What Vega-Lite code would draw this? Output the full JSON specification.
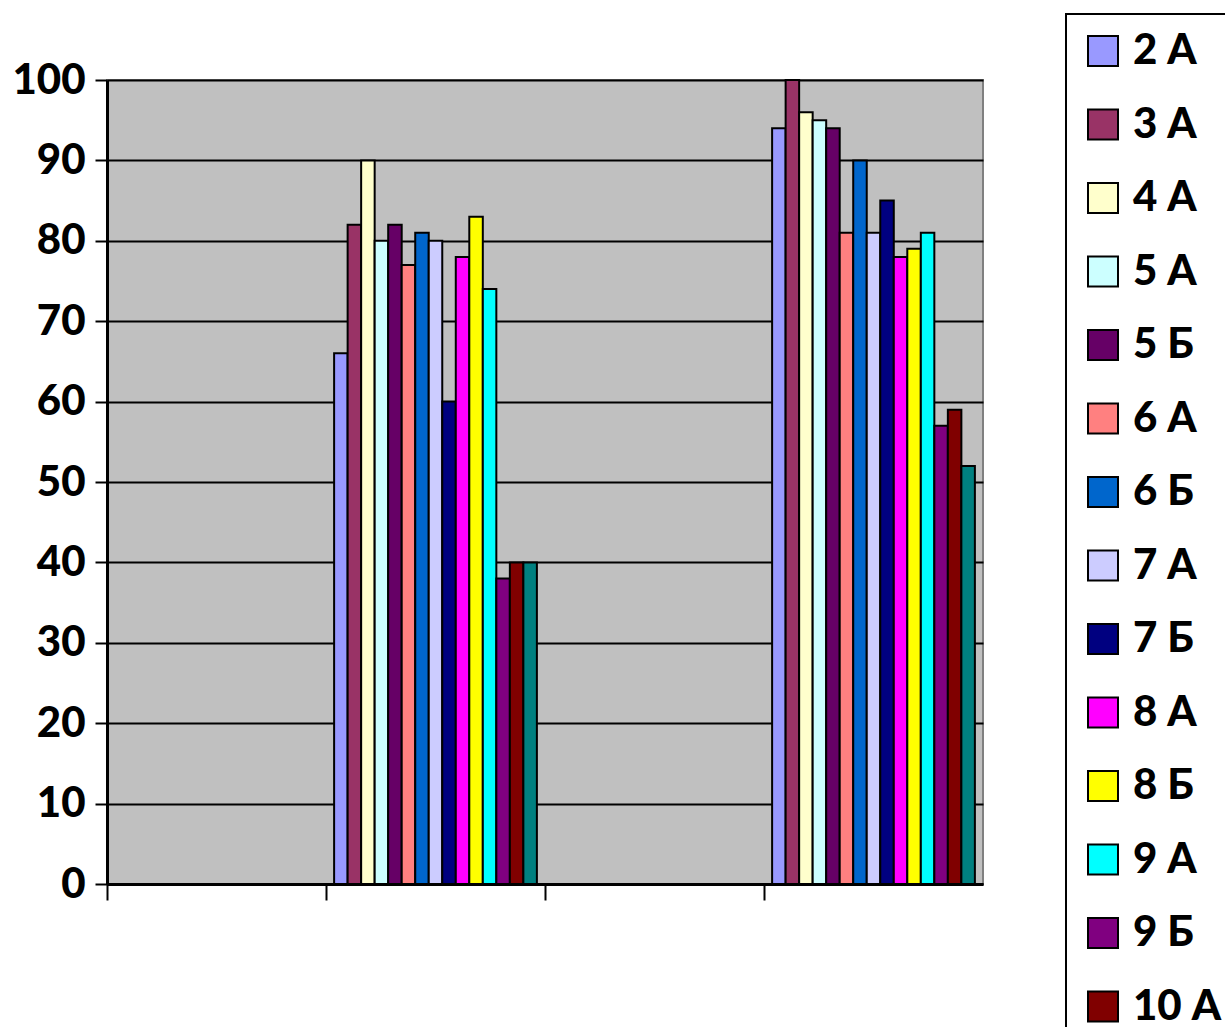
{
  "$schema": "https://vega.github.io/schema/vega-lite/v6.json",
  "autosize": {"type": "none"},
  "width": 876,
  "height": 804,
  "padding": {"left": 107, "top": 80, "right": 242, "bottom": 143},
  "background": "white",
  "config": {
    "view": {"fill": "#C0C0C0", "stroke": "#808080", "strokeWidth": 2},
    "font": "Lato",
    "legend": {"strokeWidth": 2}
  },
  "data": {
    "values": [
      {"cat": "c2", "series": "2 А", "value": 66},
      {"cat": "c2", "series": "3 А", "value": 82},
      {"cat": "c2", "series": "4 А", "value": 90},
      {"cat": "c2", "series": "5 А", "value": 80},
      {"cat": "c2", "series": "5 Б", "value": 82},
      {"cat": "c2", "series": "6 А", "value": 77},
      {"cat": "c2", "series": "6 Б", "value": 81},
      {"cat": "c2", "series": "7 А", "value": 80},
      {"cat": "c2", "series": "7 Б", "value": 60},
      {"cat": "c2", "series": "8 А", "value": 78},
      {"cat": "c2", "series": "8 Б", "value": 83},
      {"cat": "c2", "series": "9 А", "value": 74},
      {"cat": "c2", "series": "9 Б", "value": 38},
      {"cat": "c2", "series": "10 А", "value": 40},
      {"cat": "c2", "series": "11 А", "value": 40},
      {"cat": "c4", "series": "2 А", "value": 94},
      {"cat": "c4", "series": "3 А", "value": 100},
      {"cat": "c4", "series": "4 А", "value": 96},
      {"cat": "c4", "series": "5 А", "value": 95},
      {"cat": "c4", "series": "5 Б", "value": 94},
      {"cat": "c4", "series": "6 А", "value": 81},
      {"cat": "c4", "series": "6 Б", "value": 90},
      {"cat": "c4", "series": "7 А", "value": 81},
      {"cat": "c4", "series": "7 Б", "value": 85},
      {"cat": "c4", "series": "8 А", "value": 78},
      {"cat": "c4", "series": "8 Б", "value": 79},
      {"cat": "c4", "series": "9 А", "value": 81},
      {"cat": "c4", "series": "9 Б", "value": 57},
      {"cat": "c4", "series": "10 А", "value": 59},
      {"cat": "c4", "series": "11 А", "value": 52}
    ]
  },
  "mark": {"type": "bar", "stroke": "black", "strokeWidth": 2, "opacity": 1},
  "encoding": {
    "x": {
      "field": "cat",
      "type": "nominal",
      "scale": {"domain": ["c1", "c2", "c3", "c4"], "paddingInner": 0, "paddingOuter": 0},
      "axis": {
        "title": null,
        "labels": false,
        "bandPosition": 0,
        "tickSize": 16,
        "tickWidth": 2,
        "tickColor": "black",
        "domainColor": "black",
        "domainWidth": 3,
        "grid": false
      }
    },
    "xOffset": {
      "field": "series",
      "type": "nominal",
      "scale": {
        "domain": ["2 А", "3 А", "4 А", "5 А", "5 Б", "6 А", "6 Б", "7 А", "7 Б", "8 А", "8 Б", "9 А", "9 Б", "10 А", "11 А"],
        "paddingInner": 0,
        "paddingOuter": 0.6
      }
    },
    "y": {
      "field": "value",
      "type": "quantitative",
      "scale": {"domain": [0, 100], "nice": false},
      "axis": {
        "title": null,
        "values": [0, 10, 20, 30, 40, 50, 60, 70, 80, 90, 100],
        "labelFont": "Lato",
        "labelFontWeight": 900,
        "labelFontSize": 42,
        "labelColor": "black",
        "labelPadding": 10,
        "tickSize": 12,
        "tickWidth": 2,
        "tickColor": "black",
        "domainColor": "black",
        "domainWidth": 3,
        "gridColor": "black",
        "gridWidth": 2,
        "gridOpacity": 1
      }
    },
    "color": {
      "field": "series",
      "type": "nominal",
      "scale": {
        "domain": ["2 А", "3 А", "4 А", "5 А", "5 Б", "6 А", "6 Б", "7 А", "7 Б", "8 А", "8 Б", "9 А", "9 Б", "10 А", "11 А"],
        "range": ["#9999FF", "#993366", "#FFFFCC", "#CCFFFF", "#660066", "#FF8080", "#0066CC", "#CCCCFF", "#000080", "#FF00FF", "#FFFF00", "#00FFFF", "#800080", "#800000", "#008080"]
      },
      "legend": {
        "title": null,
        "orient": "none",
        "legendX": 959,
        "legendY": -66,
        "direction": "vertical",
        "strokeColor": "black",
        "padding": 16,
        "symbolType": "square",
        "symbolSize": 900,
        "symbolStrokeColor": "black",
        "symbolStrokeWidth": 2,
        "symbolOpacity": 1,
        "labelFont": "Lato",
        "labelFontWeight": 900,
        "labelFontSize": 42,
        "labelColor": "black",
        "labelOffset": 9,
        "labelLimit": 300,
        "rowPadding": 31.5,
        "offset": 0
      }
    }
  }
}
